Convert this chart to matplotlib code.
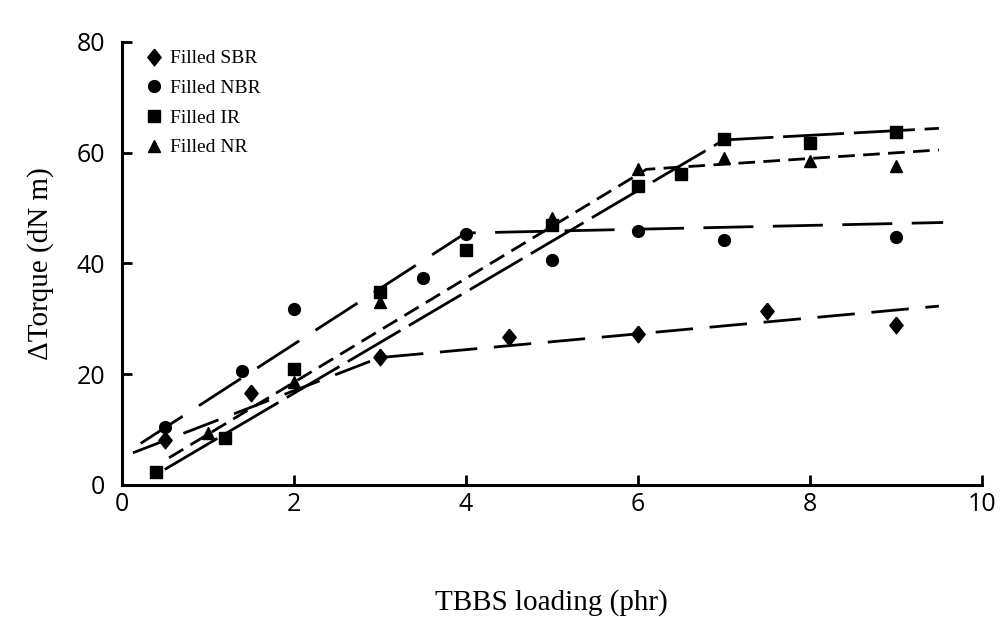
import matplotlib
matplotlib.use("Agg")
import matplotlib.pyplot as plt

plt.rcParams['lines.scale_dashes'] = False

# data points
sbr_x = [0.5, 1.5, 3.0, 4.5, 6.0, 7.5, 9.0]
sbr_y = [8.1, 16.6, 23.1, 26.7, 27.3, 31.4, 28.9]

nbr_x = [0.5, 1.4, 2.0, 3.5, 4.0, 5.0, 6.0, 7.0, 9.0]
nbr_y = [10.5, 20.6, 31.8, 37.3, 45.4, 40.7, 45.8, 44.2, 44.8]

ir_x = [0.4, 1.2, 2.0, 3.0, 4.0, 5.0, 6.0, 6.5, 7.0, 8.0, 9.0]
ir_y = [2.3, 8.5, 21.0, 34.8, 42.4, 46.9, 54.0, 56.1, 62.5, 61.7, 63.7]

nr_x = [1.0, 2.0, 3.0, 5.0, 6.0, 7.0, 8.0, 9.0]
nr_y = [9.4, 18.6, 33.0, 48.2, 57.0, 59.0, 58.5, 57.6]

# two-part trend lines (start, break, end)
sbr_fit_x = [0.13, 3.0, 9.5]
sbr_fit_y = [5.8, 23.0, 32.3]
nbr_fit_x = [0.22, 4.0, 9.55]
nbr_fit_y = [7.5, 45.5, 47.4]
ir_fit_x = [0.5, 7.0, 9.5]
ir_fit_y = [2.8, 62.3, 64.4]
nr_fit_x = [0.55, 6.1, 9.5]
nr_fit_y = [4.9, 57.0, 60.5]

fig = plt.figure(figsize=(10.06, 6.17), dpi=100)
ax = fig.add_axes([0.121, 0.214, 0.855, 0.718])

lw = 2.0
ax.plot(sbr_fit_x, sbr_fit_y, color='black', lw=lw, dashes=(27, 12))
ax.plot(nbr_fit_x, nbr_fit_y, color='black', lw=lw, dashes=(36, 14))
ax.plot(ir_fit_x, ir_fit_y, color='black', lw=lw, dashes=(44, 7))
ax.plot(nr_fit_x, nr_fit_y, color='black', lw=lw, dashes=(12, 6))

# slightly tall diamond like the original
diamond = [(0, 1), (0.8, 0), (0, -1), (-0.8, 0), (0, 1)]
ax.plot(sbr_x, sbr_y, marker=diamond, color='black', ms=12, ls='none', label='Filled SBR')
ax.plot(nbr_x, nbr_y, 'o', color='black', ms=8.5, ls='none', label='Filled NBR')
ax.plot(ir_x, ir_y, 's', color='black', ms=8.5, ls='none', label='Filled IR')
ax.plot(nr_x, nr_y, '^', color='black', ms=9, ls='none', label='Filled NR')

ax.set_xlim(0, 10)
ax.set_ylim(0, 80)
ax.set_xticks([0, 2, 4, 6, 8, 10])
ax.set_yticks([0, 20, 40, 60, 80])

for s in ['top', 'right']:
    ax.spines[s].set_visible(False)
for s in ['left', 'bottom']:
    ax.spines[s].set_linewidth(2.2)

ax.tick_params(direction='in', length=7, width=2)
ax.tick_params(axis='x', pad=5)
ax.tick_params(axis='y', pad=12)
for lab in ax.get_xticklabels() + ax.get_yticklabels():
    lab.set_family('Open Sans')
    lab.set_fontsize(18)

ax.set_xlabel('TBBS loading (phr)', family='Liberation Serif', fontsize=21, labelpad=52)
ax.set_ylabel('ΔTorque (dN m)', family='Liberation Serif', fontsize=21, labelpad=16)

leg = ax.legend(loc='upper left', bbox_to_anchor=(0.02, 1.0), frameon=False,
                prop={'family': 'Liberation Serif', 'size': 14},
                handlelength=0.8, handletextpad=0.4, labelspacing=0.62, borderaxespad=0)

fig.savefig('out.png', dpi=100)
